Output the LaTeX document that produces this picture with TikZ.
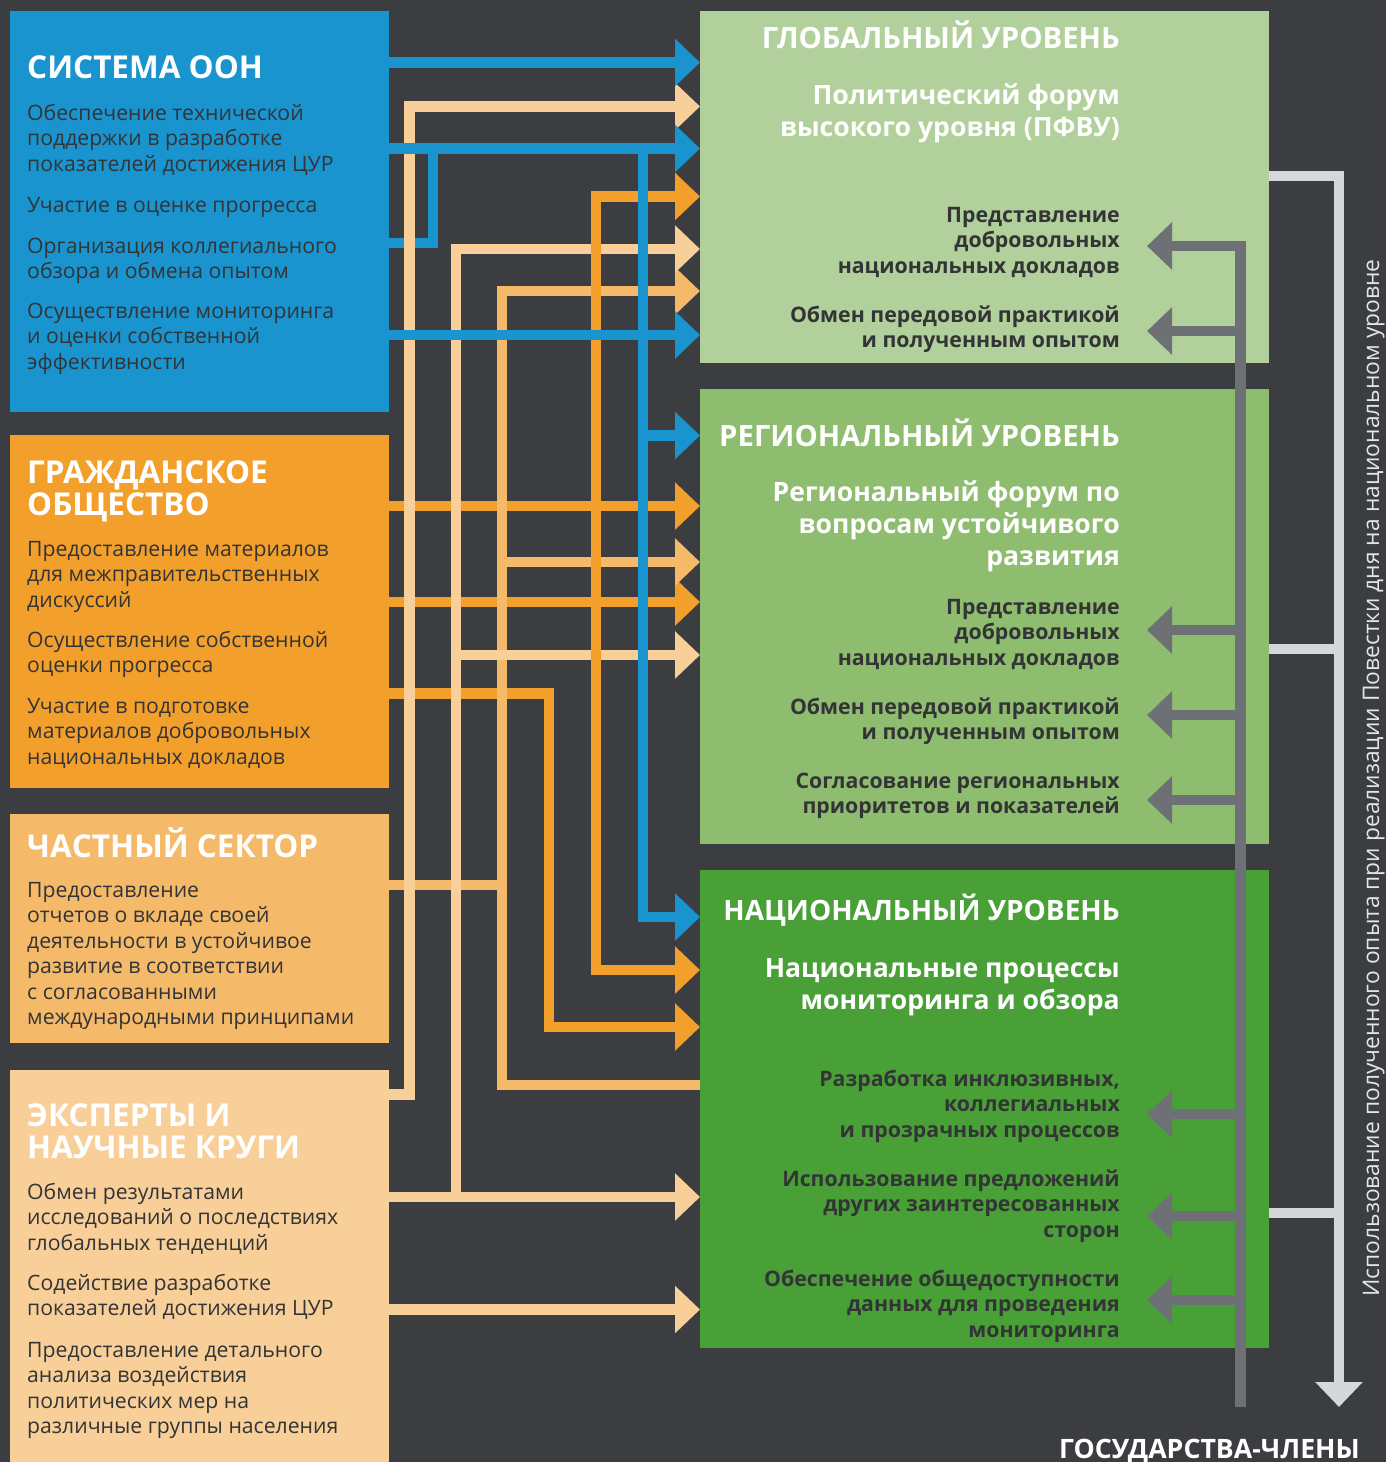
\documentclass[tikz,border=0pt]{standalone}
\usepackage{fontspec}
\setmainfont{Open Sans}
\usetikzlibrary{arrows.meta}
\definecolor{bg}{HTML}{3C3D41}
\definecolor{unblue}{HTML}{1A94CF}
\definecolor{civor}{HTML}{F39F2B}
\definecolor{privor}{HTML}{F5B96A}
\definecolor{exppale}{HTML}{F8CF98}
\definecolor{globg}{HTML}{B1D09B}
\definecolor{regg}{HTML}{8FBD6F}
\definecolor{natg}{HTML}{49A036}
\definecolor{grayarr}{HTML}{6D7074}
\definecolor{lgray}{HTML}{D5D8DA}
\definecolor{txtdark}{HTML}{333436}
\definecolor{vtext}{HTML}{E4E5E6}
\newcommand\Lft[1]{\begin{tabular}[t]{@{}l@{}}#1\end{tabular}}
\newcommand\Rgt[1]{\begin{tabular}[t]{@{}r@{}}#1\end{tabular}}
\begin{document}
\begin{tikzpicture}[x=1pt,y=-1pt,
  box/.style={draw=none,outer sep=0pt,inner sep=0pt,anchor=north west},
  lhead/.style={anchor=base west,inner sep=0pt,text=white,font=\bfseries\fontsize{31.5}{31.5}\selectfont},
  lbody/.style={anchor=base west,inner sep=0pt,text=txtdark,font=\fontsize{21.2}{25.5}\selectfont},
  rhead/.style={anchor=base east,inner sep=0pt,text=white,font=\bfseries\fontsize{29.3}{32}\selectfont},
  rsub/.style={anchor=base east,inner sep=0pt,text=white,font=\bfseries\fontsize{26.6}{32}\selectfont},
  ritem/.style={anchor=base east,inner sep=0pt,text=txtdark,font=\bfseries\fontsize{21.3}{25.5}\selectfont},
  conn/.style={draw=#1,line width=10.5pt,line join=miter},
  arr/.style={-{Triangle[length=25pt,width=46pt]}},
  arrboth/.style={{Triangle[length=25pt,width=46pt]}-{Triangle[length=25pt,width=46pt]}}
]
\fill[bg] (0,0) rectangle (1386,1462);
\useasboundingbox (0,0) rectangle (1386,1462);

% ---------- left boxes ----------
\node[box,fill=unblue,minimum width=379,minimum height=401] (un) at (10,11) {};
\node[box,fill=civor,minimum width=379,minimum height=353] (civ) at (10,435) {};
\node[box,fill=privor,minimum width=379,minimum height=229] (priv) at (10,814) {};
\node[box,fill=exppale,minimum width=379,minimum height=392] (exp) at (10,1070) {};

% ---------- right boxes ----------
\node[box,fill=globg,minimum width=569,minimum height=352] (glob) at (700,11) {};
\node[box,fill=regg,minimum width=569,minimum height=455] (reg) at (700,389) {};
\node[box,fill=natg,minimum width=569,minimum height=478] (nat) at (700,870) {};

% ---------- left texts ----------
\node[lhead] (unh) at (27,78) {СИСТЕМА ООН};
\node[lbody] (un1) at (27,120) {\Lft{Обеспечение технической\\поддержки в разработке\\показателей достижения ЦУР}};
\node[lbody] (un2) at (27,212) {Участие в оценке прогресса};
\node[lbody] (un3) at (27,253) {\Lft{Организация коллегиального\\обзора и обмена опытом}};
\node[lbody] (un4) at (27,318) {\Lft{Осуществление мониторинга\\и оценки собственной\\эффективности}};

\node[lhead] (civh) at (27,483) {\Lft{ГРАЖДАНСКОЕ\\ОБЩЕСТВО}};
\node[lbody] (civ1) at (27,556) {\Lft{Предоставление материалов\\для межправительственных\\дискуссий}};
\node[lbody] (civ2) at (27,647) {\Lft{Осуществление собственной\\оценки прогресса}};
\node[lbody] (civ3) at (27,713) {\Lft{Участие в подготовке\\материалов добровольных\\национальных докладов}};

\node[lhead] (privh) at (27,857) {ЧАСТНЫЙ СЕКТОР};
\node[lbody] (priv1) at (27,897) {\Lft{Предоставление\\отчетов о вкладе своей\\деятельности в устойчивое\\развитие в соответствии\\с согласованными\\международными принципами}};

\node[lhead] (exph) at (27,1126) {\Lft{ЭКСПЕРТЫ И\\НАУЧНЫЕ КРУГИ}};
\node[lbody] (exp1) at (27,1199) {\Lft{Обмен результатами\\исследований о последствиях\\глобальных тенденций}};
\node[lbody] (exp2) at (27,1290) {\Lft{Содействие разработке\\показателей достижения ЦУР}};
\node[lbody] (exp3) at (27,1357) {\Lft{Предоставление детального\\анализа воздействия\\политических мер на\\различные группы населения}};

% ---------- right texts ----------
\node[rhead] (globh) at (1120,48) {ГЛОБАЛЬНЫЙ УРОВЕНЬ};
\node[rsub] (globs) at (1120,104) {\Rgt{Политический форум\\высокого уровня (ПФВУ)}};
\node[ritem] (glob1) at (1120,222) {\Rgt{Представление\\добровольных\\национальных докладов}};
\node[ritem] (glob2) at (1120,322) {\Rgt{Обмен передовой практикой\\и полученным опытом}};

\node[rhead] (regh) at (1120,446) {РЕГИОНАЛЬНЫЙ УРОВЕНЬ};
\node[rsub] (regs) at (1120,501) {\Rgt{Региональный форум по\\вопросам устойчивого\\развития}};
\node[ritem] (reg1) at (1120,614) {\Rgt{Представление\\добровольных\\национальных докладов}};
\node[ritem] (reg2) at (1120,714) {\Rgt{Обмен передовой практикой\\и полученным опытом}};
\node[ritem] (reg3) at (1120,788) {\Rgt{Согласование региональных\\приоритетов и показателей}};

\node[rhead,font=\bfseries\fontsize{28}{32}\selectfont] (nath) at (1120,920) {НАЦИОНАЛЬНЫЙ УРОВЕНЬ};
\node[rsub] (nats) at (1120,977) {\Rgt{Национальные процессы\\мониторинга и обзора}};
\node[ritem] (nat1) at (1120,1086) {\Rgt{Разработка инклюзивных,\\коллегиальных\\и прозрачных процессов}};
\node[ritem] (nat2) at (1120,1186) {\Rgt{Использование предложений\\других заинтересованных\\сторон}};
\node[ritem] (nat3) at (1120,1286) {\Rgt{Обеспечение общедоступности\\данных для проведения\\мониторинга}};

% ---------- left-to-right connectors ----------
% civil society
\draw[conn=civor,arr] (civ.east |- 0,506) -- (reg.west |- 0,506);
\draw[conn=civor,arr] (civ.east |- 0,602) -- (reg.west |- 0,602);
\draw[conn=civor,arr] (civ.east |- 0,693.5) -| (549,1027) -- (nat.west |- 0,1027);
% blue feedback loop
\draw[conn=unblue] (un.east |- 0,243) -| (433,148.5);
% private sector
\draw[conn=privor] (priv.east |- 0,885) -- (502,885);
\draw[conn=privor,arr] (nat.west |- 0,1085) -| (502,291) -- (glob.west |- 0,291);
\draw[conn=privor,arr] (502,562) -- (reg.west |- 0,562);
% experts
\draw[conn=exppale,arr] (exp.east |- 0,1094.5) -| (409.5,106.5) -- (glob.west |- 0,106.5);
\draw[conn=exppale,arr] (exp.east |- 0,1197) -- (nat.west |- 0,1197);
\draw[conn=exppale,arr] (456,1197) |- (glob.west |- 0,249);
\draw[conn=exppale,arr] (456,655) -- (reg.west |- 0,655);
\draw[conn=exppale,arr] (exp.east |- 0,1309.5) -- (nat.west |- 0,1309.5);
% civil society vertical
\draw[conn=civor,arrboth] (glob.west |- 0,196.5) -| (596,970) -- (nat.west |- 0,970);
% UN system
\draw[conn=unblue,arr] (un.east |- 0,62.5) -- (glob.west |- 0,62.5);
\draw[conn=unblue,arr] (un.east |- 0,148.5) -- (glob.west |- 0,148.5);
\draw[conn=unblue,arr] (643,148.5) |- (nat.west |- 0,917);
\draw[conn=unblue,arr] (643,435.5) -- (reg.west |- 0,435.5);
\draw[conn=unblue,arr] (un.east |- 0,335) -- (glob.west |- 0,335);

% ---------- right side ----------
\coordinate (ms) at (1240.5,1407);
\coordinate (t1) at (1147,246);
\coordinate (t2) at (1147,331);
\coordinate (t3) at (1147,630);
\coordinate (t4) at (1147,715);
\coordinate (t5) at (1147,800);
\coordinate (t6) at (1147,1114);
\coordinate (t7) at (1147,1216);
\coordinate (t8) at (1147,1300);
\draw[conn=grayarr,arr] (ms) |- (t1);
\foreach \t in {t2,t3,t4,t5,t6,t7,t8}
  \draw[conn=grayarr,arr] (ms |- \t) -- (\t);

\coordinate (fb) at (1339,1407);
\draw[conn=lgray,arr] (glob.east |- 0,176) -| (fb);
\draw[conn=lgray] (reg.east |- 0,649) -- (fb |- 0,649);
\draw[conn=lgray] (nat.east |- 0,1213) -- (fb |- 0,1213);

\node[rotate=90,anchor=base,inner sep=0pt,text=vtext,font=\fontsize{22.8}{26}\selectfont] (vt) at (1379,778)
  {Использование полученного опыта при реализации Повестки дня на национальном уровне};
\node[anchor=base east,inner sep=0pt,text=white,font=\bfseries\fontsize{26.7}{30}\selectfont] (msl) at (1360,1458) {ГОСУДАРСТВА-ЧЛЕНЫ};
\end{tikzpicture}
\end{document}
